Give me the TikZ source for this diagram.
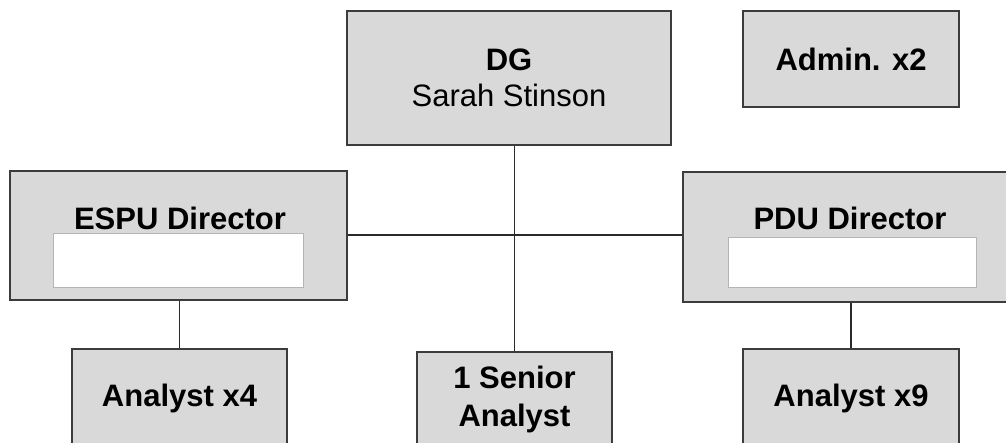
\documentclass[tikz,border=0pt]{standalone}
\usepackage{fontspec}
\setmainfont{Liberation Sans}
\usetikzlibrary{calc}
\definecolor{boxfill}{HTML}{D9D9D9}
\definecolor{boxline}{HTML}{3C3C3C}
\definecolor{connline}{HTML}{2A2A2A}
\definecolor{innerline}{HTML}{B4B4B4}
\begin{document}
\begin{tikzpicture}[x=1pt,y=-1pt,
  orgbox/.style={draw=boxline, line width=1.6pt, fill=boxfill, inner sep=0pt,
    font=\fontsize{31}{38}\selectfont\bfseries, align=center},
  innerbox/.style={draw=innerline, line width=0.8pt, fill=white, inner sep=0pt},
  txt/.style={inner sep=0pt, font=\fontsize{31}{38}\selectfont\bfseries, align=center},
  conn/.style={draw=connline, line width=1.8pt}]
\useasboundingbox (0,0) rectangle (1006,442);
\fill[white] (0,0) rectangle (1006,442);
\begin{scope}
\clip (0,0) rectangle (1006,442);
% top row
\node[orgbox, minimum width=324pt, minimum height=134pt] (dg) at (509,78)
  {DG\\[-2pt]{\mdseries Sarah Stinson}};
\node[orgbox, minimum width=216pt, minimum height=96pt] (admin) at (851,59) {Admin. x2};
% directors
\node[orgbox, minimum width=337pt, minimum height=129pt] (espu) at (178.5,235.5) {};
\node[txt] (espul) at (180,218) {ESPU Director};
\node[innerbox, minimum width=250pt, minimum height=54pt] (espuin) at (178,260) {};
\node[orgbox, minimum width=332pt, minimum height=130pt] (pdu) at (849,237) {};
\node[txt] (pdul) at (850,218) {PDU Director};
\node[innerbox, minimum width=248pt, minimum height=50pt] (pduin) at (852,262) {};
% bottom row
\node[orgbox, minimum width=215pt, minimum height=98pt] (a4) at (179.5,398) {Analyst x4};
\node[orgbox, minimum width=195pt, minimum height=94pt] (sen) at (514.5,399) {1 Senior\\Analyst};
\node[orgbox, minimum width=216pt, minimum height=98pt] (a9) at (851,398) {Analyst x9};
% connectors
\draw[conn] (sen.north |- dg.south) -- (sen.north);
\draw[conn] (espu.east |- 0,235) -- (pdu.west |- 0,235);
\draw[conn] (a4.north |- espu.south) -- (a4.north);
\draw[conn] (a9.north |- pdu.south) -- (a9.north);
\end{scope}
\end{tikzpicture}
\end{document}
